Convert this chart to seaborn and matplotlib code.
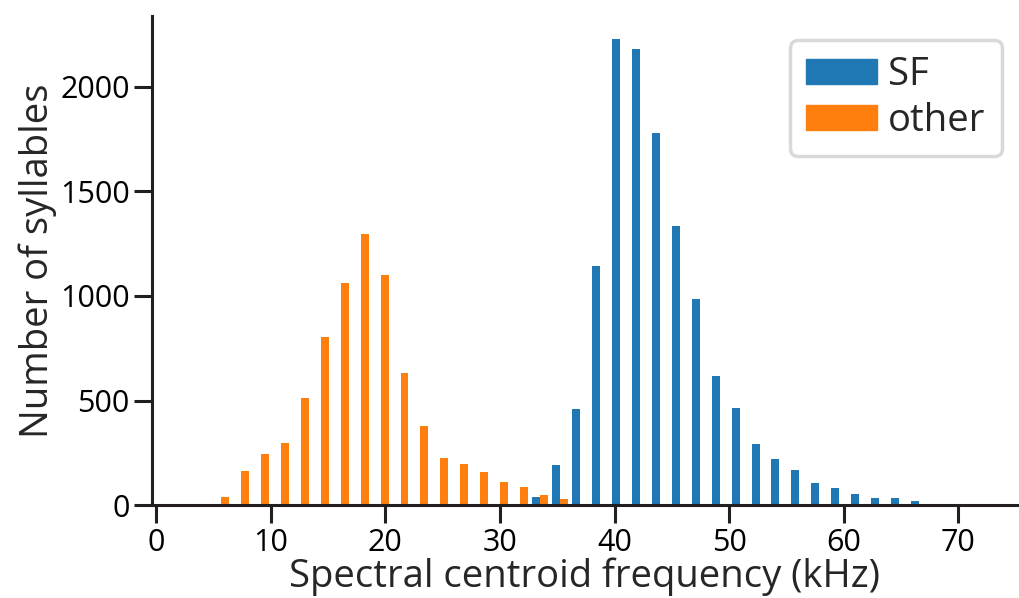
import numpy as np
import pandas as pd
import matplotlib
matplotlib.use("Agg")
import matplotlib.pyplot as plt
import matplotlib.patches as mpatches
import seaborn as sns

# histogram bins (kHz)
bin_start = 4.8
bin_width = 1.74
n_bins = 36

# counts per bin, starting at the given bin index
sf_first = 16
sf_counts = [40, 193, 460, 1144, 2228, 2180, 1780, 1335, 987, 618,
             465, 293, 221, 169, 107, 83, 54, 35, 35, 21]
other_first = 0
other_counts = [40, 164, 245, 298, 513, 804, 1063, 1297, 1102, 632,
                378, 226, 197, 159, 111, 87, 49, 30]

groups = ["SF", "other"]
colors = ["#1f77b4", "#ff7f0e"]

edges = bin_start + bin_width * np.arange(n_bins + 1)
centers = edges[:-1] + bin_width / 2

rows = []
for k, c in enumerate(sf_counts):
    rows.append((centers[sf_first + k], c, "SF"))
for k, c in enumerate(other_counts):
    rows.append((centers[other_first + k], c, "other"))
df = pd.DataFrame(rows, columns=["freq", "count", "group"])

sns.set_style("ticks")
plt.rcParams['font.family'] = ['Open Sans', 'DejaVu Sans']
plt.rcParams['axes.linewidth'] = 2.2
plt.rcParams['axes.edgecolor'] = '#231f20'

fig = plt.figure(figsize=(10.2, 5.98), dpi=100)
ax = fig.add_axes([152 / 1020, 92.7 / 598, 866 / 1020, 489.7 / 598])

sns.histplot(data=df, x="freq", weights="count", hue="group", hue_order=groups,
             bins=edges.tolist(), multiple="dodge", shrink=0.8, palette=colors,
             alpha=1, linewidth=0, legend=False, ax=ax)

ax.set_xlim(-0.35, 75.2)
ax.set_xticks(np.arange(0, 71, 10))
ax.set_yticks([0, 500, 1000, 1500, 2000])
ax.tick_params(axis="both", length=13, width=2.2, color='#231f20',
               labelsize=22, labelcolor="black", pad=3)
ax.set_xlabel("Spectral centroid frequency (kHz)", fontsize=27.5, labelpad=0)
ax.set_ylabel("Number of syllables", fontsize=27.5, labelpad=2)
sns.despine(ax=ax)

handles = [mpatches.Patch(color=c, label=g) for g, c in zip(groups, colors)]
leg = ax.legend(handles=handles, loc="upper right", bbox_to_anchor=(0.981, 0.95),
                borderaxespad=0, fontsize=27.5, frameon=True, fancybox=True,
                handlelength=1.85, handleheight=0.65, handletextpad=0.3,
                labelspacing=0.2, borderpad=0.42)
leg.get_frame().set_edgecolor("#d9d9d9")
leg.get_frame().set_linewidth(2.5)
leg.get_frame().set_alpha(1)

fig.savefig("out.png", dpi=100)
